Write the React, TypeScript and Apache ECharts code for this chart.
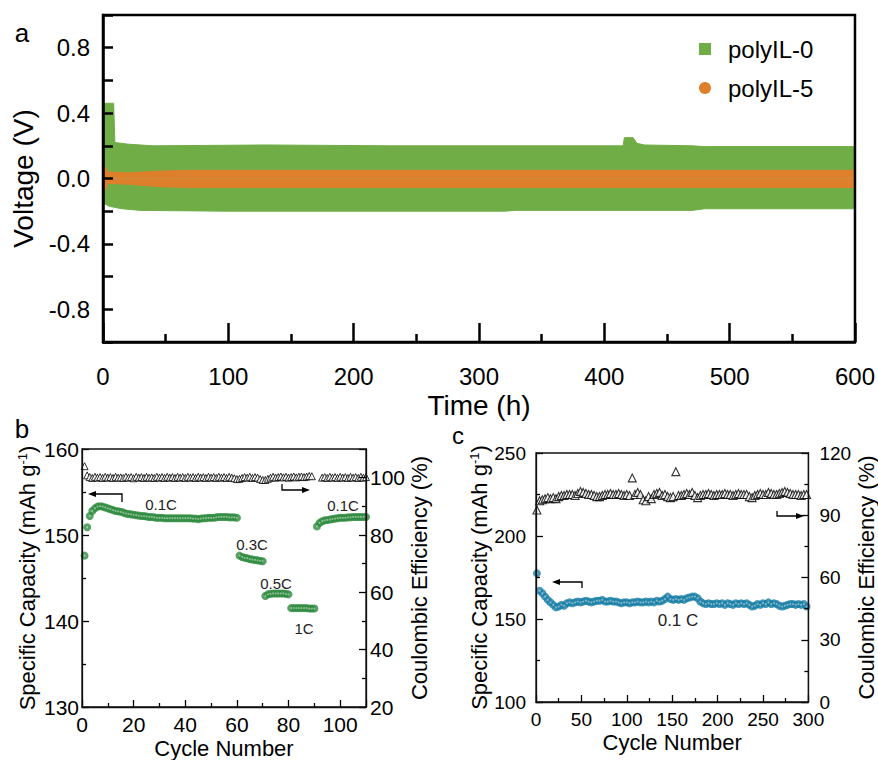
import React, { useEffect, useRef } from "react";
import * as echarts from "echarts";

const FONT = "Liberation Sans, Arial, Helvetica, sans-serif";

// ---------- Panel a : voltage envelopes (time h, voltage V) ----------
const polyIL0Upper: [number, number][] = [
  [0, 0.46], [8.5, 0.46], [9.5, 0.22], [20, 0.21], [40, 0.2], [130, 0.205],
  [230, 0.2], [330, 0.2], [415, 0.2], [416, 0.25], [423, 0.25], [426, 0.215],
  [432, 0.205], [470, 0.2], [480, 0.195], [600, 0.195],
];
const polyIL0Lower: [number, number][] = [
  [0, -0.15], [5, -0.17], [15, -0.185], [30, -0.195], [100, -0.2], [320, -0.2],
  [330, -0.195], [470, -0.195], [480, -0.185], [600, -0.185],
];
const polyIL5Upper: [number, number][] = [
  [0, 0.07], [2, 0.07], [4, 0.04], [20, 0.035], [45, 0.045], [70, 0.05], [600, 0.05],
];
const polyIL5Lower: [number, number][] = [
  [0, -0.07], [2, -0.07], [4, -0.03], [20, -0.035], [45, -0.05], [70, -0.055], [600, -0.055],
];
const voltLabels = ["-0.8", "-0.4", "0.0", "0.4", "0.8"];

// ---------- Panel b : rate capability (cycle 1..110) ----------
const capB = [
  147.6, 150.9, 152.2, 152.8, 153.1, 153.3, 153.35, 153.3, 153.2, 153.1,
  153.0, 152.9, 152.8, 152.75, 152.7, 152.6, 152.5, 152.45, 152.4, 152.35,
  152.3, 152.25, 152.2, 152.2, 152.15, 152.1, 152.1, 152.05, 152.0, 152.0,
  152.0, 151.95, 151.95, 151.95, 151.95, 151.95, 151.95, 151.95, 151.95, 151.95,
  151.95, 151.95, 151.9, 151.9, 151.85, 151.9, 151.95, 151.95, 152.0, 152.0,
  152.0, 152.05, 152.1, 152.1, 152.1, 152.1, 152.05, 152.05, 152.05, 152.0,
  147.6, 147.45, 147.35, 147.3, 147.2, 147.15, 147.1, 147.05, 147.0, 146.95,
  142.9, 143.1, 143.15, 143.2, 143.2, 143.2, 143.2, 143.2, 143.15, 143.1,
  141.5, 141.5, 141.5, 141.5, 141.5, 141.5, 141.5, 141.45, 141.45, 141.45,
  151.0, 151.4, 151.6, 151.7, 151.75, 151.8, 151.85, 151.9, 151.95, 152.0,
  152.0, 152.0, 152.05, 152.05, 152.1, 152.1, 152.1, 152.1, 152.1, 152.1,
];
const ceB: (number | null)[] = [
  104.0, 100.8, 100.2, 99.9, 100.3, 100.0, 100.2, 99.9, 100.3, 100.0,
  100.2, 99.9, 100.3, 100.0, 100.1, 99.9, 100.3, 100.0, 100.2, 99.8,
  100.3, 100.0, 100.2, 99.9, 100.3, 100.0, 100.1, 99.9, 100.3, 100.0,
  100.2, 99.9, 100.3, 100.0, 100.2, 99.9, 100.3, 100.0, 100.2, 99.9,
  100.3, 100.0, 100.2, 99.9, 100.3, 100.0, 100.2, 99.9, 100.3, 100.0,
  100.2, 99.9, 100.3, 100.0, 100.2, 99.9, 100.3, 100.0, 99.8, 99.5,
  99.6, 99.9, 100.2, 100.0, 100.3, 99.9, 100.2, 100.0, 99.5, 99.2,
  99.2, 99.6, 100.0, 100.3, 100.0, 100.2, 100.4, 100.1, 100.3, 100.0,
  100.2, 100.4, 100.1, 100.3, 100.4, 100.2, 100.4, 100.6, 100.5, null,
  null, null, 100.0, 100.2, 99.9, 100.3, 100.0, 100.2, 99.9, 100.3,
  100.0, 100.2, 99.9, 100.3, 100.0, 100.2, 99.9, 100.3, 100.0, 100.2,
];
const rateLabelsB = ["0.1C", "0.3C", "0.5C", "1C", "0.1C"];

// ---------- Panel c : long cycling at 0.1 C (every 3rd cycle from 1) ----------
const capC = [
  177.5, 167.0, 165.5, 163.5, 161.5, 160.0, 158.5, 157.0, 157.5, 158.5,
  158.0, 159.5, 160.0, 159.5, 160.0, 160.5, 160.0, 160.5, 161.0, 160.5,
  160.0, 160.5, 161.0, 161.0, 161.5, 160.5, 160.5, 161.0, 160.5, 160.5,
  160.0, 159.5, 160.0, 160.0, 159.5, 160.0, 160.0, 160.5, 160.0, 160.0,
  160.5, 160.0, 160.5, 160.0, 161.0, 160.5, 161.0, 162.0, 163.5, 162.0,
  161.5, 162.0, 161.5, 162.0, 161.5, 162.5, 163.0, 163.5, 163.5, 162.5,
  160.5, 159.5, 159.0, 159.5, 159.0, 159.0, 159.5, 159.0, 159.5, 158.5,
  159.5, 159.0, 158.5, 159.5, 159.0, 159.5, 159.0, 159.5, 158.5, 157.5,
  158.0, 159.0, 158.5, 159.5, 159.0, 160.0, 159.0, 159.5, 159.0, 158.0,
  157.5, 158.0, 158.5, 159.0, 159.0, 158.5, 159.0, 158.5, 159.0, 157.5,
];
const ceC = [
  92.5, 97.0, 97.5, 98.0, 98.5, 98.0, 98.5, 98.0, 99.0, 99.5,
  99.5, 100.0, 100.0, 100.0, 99.5, 100.5, 101.5, 101.0, 100.5, 100.0,
  100.0, 99.5, 99.0, 99.0, 99.5, 100.0, 100.0, 100.5, 100.0, 100.0,
  100.5, 100.0, 99.5, 100.0, 99.5, 108.0, 100.0, 101.0, 100.0, 97.5,
  97.0, 99.0, 98.0, 100.0, 100.5, 101.0, 99.5, 100.0, 99.0, 98.5,
  99.0, 111.0, 99.5, 99.5, 100.0, 100.5, 100.0, 101.0, 99.5, 98.5,
  99.5, 100.0, 100.0, 100.5, 100.0, 99.5, 100.0, 100.0, 100.0, 100.5,
  100.0, 100.0, 99.5, 100.0, 100.5, 100.0, 100.0, 100.0, 99.0, 98.5,
  99.5, 100.0, 100.5, 100.0, 100.0, 101.0, 100.5, 100.0, 100.0, 100.5,
  101.0, 101.5, 101.0, 100.5, 100.0, 100.0, 100.0, 99.5, 100.0, 100.0,
];
const CYCLE_STEP_C = 3;

const GREEN_A = "#70AD47";
const ORANGE_A = "#DE7F2C";
const GREEN_B = "#2E8B3E";
const BLUE_C = "#1B80A6";

export default function App() {
  const ref = useRef<HTMLDivElement>(null);

  useEffect(() => {
    if (!ref.current) return;
    const chart = echarts.init(ref.current, undefined, { renderer: "svg" });

    const cycB = capB.map((_, i) => i + 1);
    const cycC = capC.map((_, i) => 1 + CYCLE_STEP_C * i);

    const lbl = (size: number, margin: number, formatter?: any) => ({
      fontSize: size, fontFamily: FONT, color: "#000", margin, formatter,
    });
    const nameStyle = (size: number) => ({
      fontSize: size, fontFamily: FONT, color: "#000",
      rich: { s: { fontSize: Math.round(size * 0.6), fontFamily: FONT, color: "#000", verticalAlign: "top" } },
    });
    const thickLine = { show: true, onZero: false, lineStyle: { color: "#000", width: 2.5 } };
    const thinLine = { show: true, onZero: false, lineStyle: { color: "#111", width: 1.3 } };
    const ticks = (len: number, w: number) => ({ show: true, inside: true, length: len, lineStyle: { color: "#000", width: w } });
    const minor = (len: number, w: number) => ({ show: true, splitNumber: 2, length: len, lineStyle: { color: "#000", width: w } });

    const bandSeries = (name: string, data: [number, number][], color: string) => ({
      type: "line", name, data, xAxisIndex: 0, yAxisIndex: 0,
      showSymbol: false, symbol: "none",
      itemStyle: { color },
      lineStyle: { color, width: 1 },
      areaStyle: { color, opacity: 1 },
      z: 2,
    });

    const dotOverlay = (xs: number[], ys: (number | null)[], xi: number, yi: number) => ({
      type: "scatter", silent: true, xAxisIndex: xi, yAxisIndex: yi,
      symbol: "circle", symbolSize: 2,
      itemStyle: { color: "rgba(255,255,255,0.55)" },
      data: ys.map((v, i) => [xs[i], v]),
      z: 4,
    });

    const arrowStyle = { stroke: "#000", lineWidth: 1.3, fill: null };

    chart.setOption({
      animation: false,
      backgroundColor: "#fff",
      grid: [
        { left: 103, top: 15, width: 752, height: 327, show: true, borderColor: "#000", borderWidth: 2.5, z: 10, backgroundColor: "transparent" },
        { left: 82, top: 449, width: 284, height: 258, show: true, borderColor: "#111", borderWidth: 1.3, z: 10, backgroundColor: "transparent" },
        { left: 536, top: 453, width: 283, height: 249, show: true, borderColor: "#111", borderWidth: 1.3, z: 10, backgroundColor: "transparent" },
      ],
      legend: {
        orient: "vertical", left: 694, top: 32, itemWidth: 12, itemHeight: 12, itemGap: 15,
        data: [{ name: "polyIL-0", icon: "rect" }, { name: "polyIL-5", icon: "circle" }],
        textStyle: { fontSize: 24, fontFamily: FONT, color: "#000", padding: [0, 0, 0, 12] },
        selectedMode: false,
      },
      xAxis: [
        {
          gridIndex: 0, type: "value", min: 0, max: 600, interval: 100, z: 6,
          axisLine: thickLine, axisTick: ticks(19, 2.5), minorTick: minor(8, 2.5),
          splitLine: { show: false }, axisLabel: lbl(24, 22),
          name: "Time (h)", nameLocation: "middle", nameGap: 49, nameTextStyle: nameStyle(28),
        },
        {
          gridIndex: 1, type: "value", min: 0, max: 110, interval: 20, z: 6,
          axisLine: thinLine, axisTick: ticks(7, 1.3), minorTick: minor(4, 1.3),
          splitLine: { show: false },
          axisLabel: lbl(21, 7, (v: number) => (v > 100 ? "" : String(v))),
          name: "Cycle Number", nameLocation: "middle", nameGap: 30, nameTextStyle: nameStyle(22),
        },
        {
          gridIndex: 2, type: "value", min: 0, max: 300, interval: 50, z: 6,
          axisLine: thinLine, axisTick: ticks(7, 1.3), minorTick: minor(4, 1.3),
          splitLine: { show: false }, axisLabel: lbl(19, 8),
          name: "Cycle Number", nameLocation: "middle", nameGap: 29, nameTextStyle: nameStyle(22),
        },
      ],
      yAxis: [
        {
          gridIndex: 0, type: "value", min: -1, max: 1, interval: 0.2, z: 6,
          axisLine: thickLine, axisTick: ticks(10, 2.5),
          splitLine: { show: false },
          axisLabel: lbl(24, 13, (v: number) => {
            const s = (Math.round(v * 10) / 10).toFixed(1).replace("-0.0", "0.0");
            return voltLabels.includes(s) ? s : "";
          }),
          name: "Voltage (V)", nameLocation: "middle", nameGap: 66, nameTextStyle: nameStyle(28),
        },
        {
          gridIndex: 1, type: "value", min: 130, max: 160, interval: 10, z: 6,
          axisLine: thinLine, axisTick: ticks(7, 1.3), minorTick: minor(4, 1.3),
          splitLine: { show: false }, axisLabel: lbl(21, 3),
          name: "Specific Capacity (mAh g{s|-1})", nameLocation: "middle", nameGap: 44, nameTextStyle: nameStyle(22),
        },
        {
          gridIndex: 1, type: "value", position: "right", min: 20, max: 110, interval: 20, z: 6,
          axisLine: thinLine, axisTick: ticks(7, 1.3), minorTick: minor(4, 1.3),
          splitLine: { show: false },
          axisLabel: lbl(21, 4, (v: number) => (v > 100 ? "" : String(v))),
          name: "Coulombic Efficiency (%)", nameLocation: "middle", nameGap: 34, nameTextStyle: nameStyle(22),
        },
        {
          gridIndex: 2, type: "value", min: 100, max: 250, interval: 50, z: 6,
          axisLine: thinLine, axisTick: ticks(7, 1.3), minorTick: minor(4, 1.3),
          splitLine: { show: false }, axisLabel: lbl(19, 10),
          name: "Specific Capacity (mAh g{s|-1})", nameLocation: "middle", nameGap: 45, nameTextStyle: nameStyle(22),
        },
        {
          gridIndex: 2, type: "value", position: "right", min: 0, max: 120, interval: 30, z: 6,
          axisLine: thinLine, axisTick: ticks(7, 1.3), minorTick: minor(4, 1.3),
          splitLine: { show: false }, axisLabel: lbl(19, 11),
          name: "Coulombic Efficiency (%)", nameLocation: "middle", nameGap: 33, nameTextStyle: nameStyle(22),
        },
      ],
      series: [
        bandSeries("polyIL-0", polyIL0Upper, GREEN_A),
        bandSeries("polyIL-0", polyIL0Lower, GREEN_A),
        bandSeries("polyIL-5", polyIL5Upper, ORANGE_A),
        bandSeries("polyIL-5", polyIL5Lower, ORANGE_A),
        {
          type: "scatter", name: "capB", xAxisIndex: 1, yAxisIndex: 1,
          symbol: "circle", symbolSize: 8, itemStyle: { color: GREEN_B },
          data: capB.map((v, i) => [cycB[i], v]), z: 3,
        },
        dotOverlay(cycB, capB, 1, 1),
        {
          type: "scatter", name: "ceB", xAxisIndex: 1, yAxisIndex: 2,
          symbol: "triangle", symbolSize: 7,
          itemStyle: { color: "#fff", borderColor: "#000", borderWidth: 1 },
          data: ceB.map((v, i) => [cycB[i], v]), z: 3,
        },
        {
          type: "scatter", name: "capC", xAxisIndex: 2, yAxisIndex: 3,
          symbol: "circle", symbolSize: 8, itemStyle: { color: BLUE_C },
          data: capC.map((v, i) => [cycC[i], v]), z: 3,
        },
        dotOverlay(cycC, capC, 2, 3),
        {
          type: "scatter", name: "ceC", xAxisIndex: 2, yAxisIndex: 4,
          symbol: "triangle", symbolSize: 8,
          itemStyle: { color: "#fff", borderColor: "#000", borderWidth: 1.1 },
          data: ceC.map((v, i) => [cycC[i], v]), z: 3,
        },
      ],
      graphic: [
        { type: "text", x: 22, y: 33, style: { text: "a", font: `26px ${FONT}`, fill: "#000", align: "center", verticalAlign: "middle" } },
        { type: "text", x: 22, y: 429, style: { text: "b", font: `26px ${FONT}`, fill: "#000", align: "center", verticalAlign: "middle" } },
        { type: "text", x: 458, y: 435, style: { text: "c", font: `24px ${FONT}`, fill: "#000", align: "center", verticalAlign: "middle" } },
        { type: "text", x: 161, y: 504, style: { text: rateLabelsB[0], font: `15px ${FONT}`, fill: "#222", align: "center", verticalAlign: "middle" } },
        { type: "text", x: 252, y: 544, style: { text: rateLabelsB[1], font: `15px ${FONT}`, fill: "#222", align: "center", verticalAlign: "middle" } },
        { type: "text", x: 276, y: 583, style: { text: rateLabelsB[2], font: `15px ${FONT}`, fill: "#222", align: "center", verticalAlign: "middle" } },
        { type: "text", x: 304, y: 628, style: { text: rateLabelsB[3], font: `15px ${FONT}`, fill: "#222", align: "center", verticalAlign: "middle" } },
        { type: "text", x: 343, y: 505, style: { text: rateLabelsB[4], font: `15px ${FONT}`, fill: "#222", align: "center", verticalAlign: "middle" } },
        { type: "text", x: 678, y: 620, style: { text: "0.1 C", font: `17px ${FONT}`, fill: "#222", align: "center", verticalAlign: "middle" } },
        // arrows panel b
        { type: "polyline", shape: { points: [[122, 502], [122, 494], [93, 494]] }, style: arrowStyle },
        { type: "polygon", shape: { points: [[88, 494], [96, 491], [96, 497]] }, style: { fill: "#000" } },
        { type: "polyline", shape: { points: [[282, 484], [282, 490], [304, 490]] }, style: arrowStyle },
        { type: "polygon", shape: { points: [[310, 490], [302, 487], [302, 493]] }, style: { fill: "#000" } },
        // arrows panel c
        { type: "polyline", shape: { points: [[582, 588], [582, 582], [557, 582]] }, style: arrowStyle },
        { type: "polygon", shape: { points: [[552, 582], [560, 579], [560, 585]] }, style: { fill: "#000" } },
        { type: "polyline", shape: { points: [[777, 511], [777, 516], [798, 516]] }, style: arrowStyle },
        { type: "polygon", shape: { points: [[804, 516], [796, 513], [796, 519]] }, style: { fill: "#000" } },
      ],
    });

    return () => chart.dispose();
  }, []);

  return (
    <div
      ref={ref}
      style={{ position: "fixed", left: 0, top: 0, width: 878, height: 760, background: "#fff" }}
    />
  );
}
